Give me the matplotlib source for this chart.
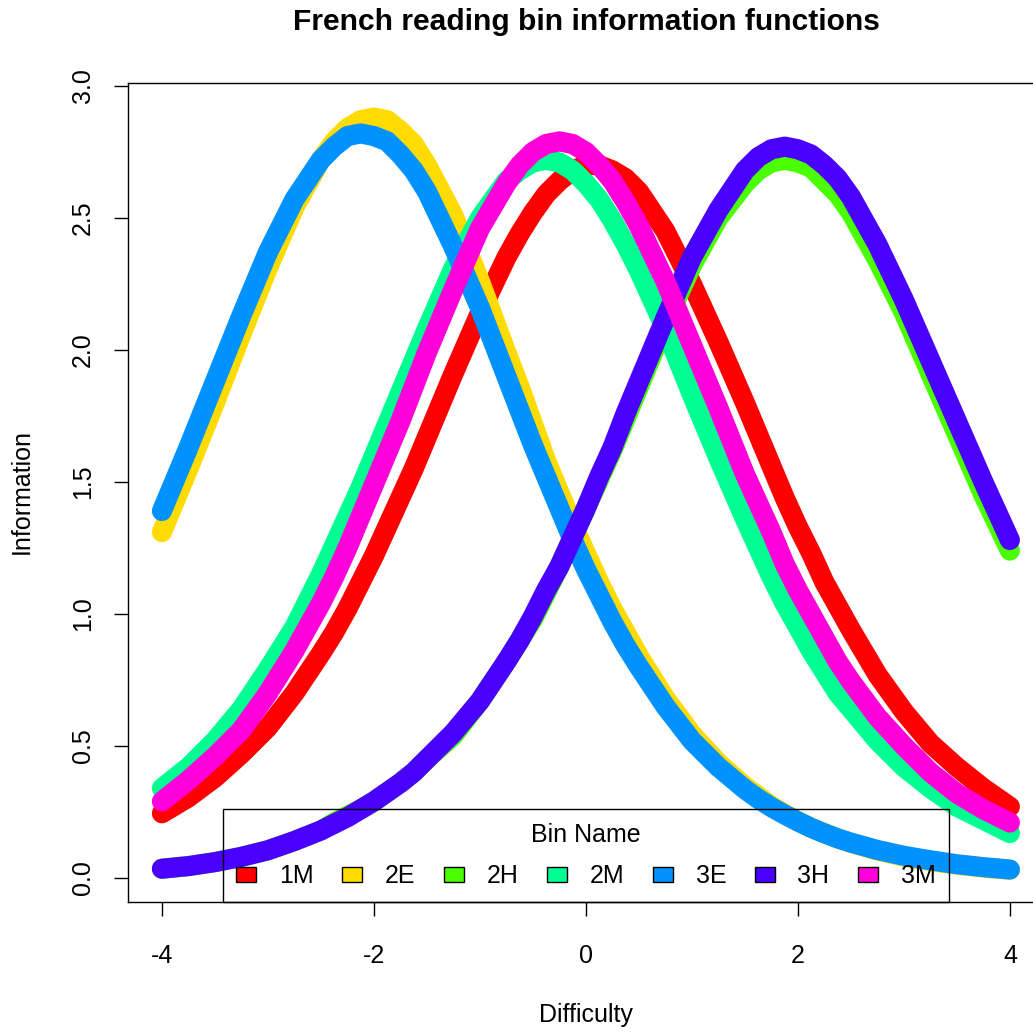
import matplotlib
matplotlib.use("Agg")
import matplotlib.pyplot as plt
from matplotlib.patches import Patch
from matplotlib.ticker import FixedLocator, FixedFormatter

plt.rcParams['font.family'] = ['Liberation Sans', 'DejaVu Sans']
plt.rcParams['axes.unicode_minus'] = False

# ---- data ----
theta = [-4.0, -3.75, -3.5, -3.25, -3.0, -2.75, -2.5, -2.375, -2.25, -2.125, -2.0,
         -1.875, -1.75, -1.625, -1.5, -1.25, -1.0, -0.75, -0.625, -0.5, -0.375,
         -0.25, -0.125, 0.0, 0.125, 0.25, 0.375, 0.5, 0.75, 1.0, 1.25, 1.5, 1.625,
         1.75, 1.875, 2.0, 2.125, 2.25, 2.375, 2.5, 2.75, 3.0, 3.25, 3.5, 3.75, 4.0]

bin_names = ["1M", "2E", "2H", "2M", "3E", "3H", "3M"]
bin_colors = ["#FF0000", "#FFDB00", "#49FF00", "#00FF92", "#0092FF", "#4900FF", "#FF00DB"]

info_1M = [0.245, 0.305, 0.38, 0.47, 0.57, 0.70, 0.85, 0.93, 1.02, 1.12, 1.22,
           1.33, 1.44, 1.55, 1.67, 1.91, 2.14, 2.35, 2.44, 2.52, 2.59,
           2.64, 2.68, 2.70, 2.70, 2.68, 2.65, 2.60, 2.45, 2.25, 2.03, 1.80, 1.68,
           1.56, 1.44, 1.33, 1.23, 1.12, 1.03, 0.94, 0.77, 0.63, 0.51, 0.42, 0.34, 0.27]
info_2E = [1.31, 1.55, 1.80, 2.06, 2.31, 2.54, 2.72, 2.79, 2.84, 2.87, 2.88,
           2.87, 2.83, 2.78, 2.70, 2.51, 2.26, 1.99, 1.86, 1.72, 1.58,
           1.46, 1.34, 1.23, 1.12, 1.02, 0.93, 0.84, 0.68, 0.545, 0.436, 0.347, 0.31,
           0.273, 0.243, 0.215, 0.19, 0.17, 0.15, 0.133, 0.104, 0.081, 0.064, 0.05, 0.039, 0.031]
info_2H = [0.035, 0.045, 0.06, 0.08, 0.105, 0.14, 0.18, 0.21, 0.235, 0.26, 0.29,
           0.325, 0.36, 0.40, 0.45, 0.54, 0.67, 0.82, 0.90, 0.98, 1.08,
           1.18, 1.29, 1.40, 1.51, 1.62, 1.74, 1.86, 2.10, 2.32, 2.50, 2.63, 2.68,
           2.71, 2.72, 2.71, 2.69, 2.64, 2.59, 2.52, 2.34, 2.14, 1.91, 1.68, 1.45, 1.24]
info_2M = [0.34, 0.42, 0.52, 0.64, 0.79, 0.95, 1.15, 1.26, 1.37, 1.48, 1.60,
           1.72, 1.84, 1.96, 2.08, 2.31, 2.50, 2.64, 2.68, 2.71, 2.72,
           2.71, 2.68, 2.63, 2.57, 2.49, 2.40, 2.30, 2.08, 1.83, 1.59, 1.36, 1.25,
           1.14, 1.04, 0.95, 0.86, 0.78, 0.70, 0.64, 0.52, 0.42, 0.34, 0.27, 0.22, 0.17]
info_3E = [1.39, 1.63, 1.88, 2.13, 2.37, 2.57, 2.72, 2.77, 2.81, 2.82, 2.81,
           2.79, 2.74, 2.68, 2.60, 2.39, 2.16, 1.90, 1.77, 1.64, 1.52,
           1.40, 1.28, 1.17, 1.07, 0.97, 0.88, 0.80, 0.65, 0.52, 0.42, 0.336, 0.30,
           0.268, 0.24, 0.214, 0.19, 0.169, 0.15, 0.134, 0.106, 0.084, 0.067, 0.052, 0.041, 0.032]
info_3H = [0.035, 0.045, 0.06, 0.08, 0.105, 0.14, 0.18, 0.205, 0.23, 0.26, 0.29,
           0.325, 0.36, 0.40, 0.45, 0.55, 0.67, 0.82, 0.90, 0.99, 1.09,
           1.18, 1.29, 1.40, 1.52, 1.63, 1.76, 1.88, 2.12, 2.35, 2.53, 2.68, 2.73,
           2.76, 2.77, 2.76, 2.74, 2.70, 2.65, 2.58, 2.40, 2.19, 1.96, 1.73, 1.50, 1.28]
info_3M = [0.29, 0.37, 0.46, 0.56, 0.70, 0.86, 1.04, 1.14, 1.25, 1.37, 1.49,
           1.61, 1.73, 1.86, 1.99, 2.23, 2.46, 2.63, 2.70, 2.75, 2.78,
           2.79, 2.78, 2.75, 2.70, 2.64, 2.56, 2.47, 2.26, 2.02, 1.78, 1.53, 1.42,
           1.31, 1.19, 1.09, 1.00, 0.91, 0.82, 0.745, 0.61, 0.50, 0.40, 0.32, 0.26, 0.21]

x_ticks = [-4, -2, 0, 2, 4]
x_tick_labels = ["-4", "-2", "0", "2", "4"]
y_ticks = [0.0, 0.5, 1.0, 1.5, 2.0, 2.5, 3.0]
y_tick_labels = ["0.0", "0.5", "1.0", "1.5", "2.0", "2.5", "3.0"]

series = [info_1M, info_2E, info_2H, info_2M, info_3E, info_3H, info_3M]

# ---- figure ----
W = 1033
fig = plt.figure(figsize=(W / 100, W / 100), dpi=100)
ax = fig.add_axes([128 / W, (W - 902) / W, 915.8 / W, (902 - 83) / W])

for name, col, vals in zip(bin_names, bin_colors, series):
    ax.plot(theta, vals, color=col, lw=14.5, solid_capstyle='round',
            solid_joinstyle='round', zorder=2)

ax.set_xlim(-4.32, 4.32)
ax.set_ylim(-0.091, 3.011)
ax.xaxis.set_major_locator(FixedLocator(x_ticks))
ax.xaxis.set_major_formatter(FixedFormatter(x_tick_labels))
ax.yaxis.set_major_locator(FixedLocator(y_ticks))
ax.yaxis.set_major_formatter(FixedFormatter(y_tick_labels))
ax.tick_params(axis='both', direction='out', length=10, width=1, labelsize=18,
               colors='black')
ax.tick_params(axis='x', pad=20)
ax.tick_params(axis='y', pad=14)
for lab in ax.get_yticklabels():
    lab.set_rotation(90)
    lab.set_va('center')
for sp in ax.spines.values():
    sp.set_linewidth(1)
    sp.set_color('black')

handles = [Patch(facecolor=c, edgecolor='black', linewidth=1) for c in bin_colors]
leg = ax.legend(handles, bin_names, loc='lower center', bbox_to_anchor=(0.5, 0.0),
                ncol=7, title="Bin Name", fontsize=18, title_fontsize=18,
                frameon=True, fancybox=False, framealpha=1, borderaxespad=0,
                borderpad=0.55, labelspacing=0.7, handlelength=0.8, handleheight=0.6,
                handletextpad=0.9, columnspacing=1.15)
leg.get_frame().set_facecolor('none')
leg.get_frame().set_edgecolor('black')
leg.get_frame().set_linewidth(1)
leg.set_zorder(5)

fig.text(586 / W, 1 - 22 / W, "French reading bin information functions",
         ha='center', va='center', fontsize=21.6, fontweight='bold')
fig.text(586 / W, 1 - 1015 / W, "Difficulty", ha='center', va='center', fontsize=18)
fig.text(22 / W, 1 - 492 / W, "Information", ha='center', va='center', fontsize=18,
         rotation=90)

fig.savefig("out.png", dpi=100, facecolor='white')
